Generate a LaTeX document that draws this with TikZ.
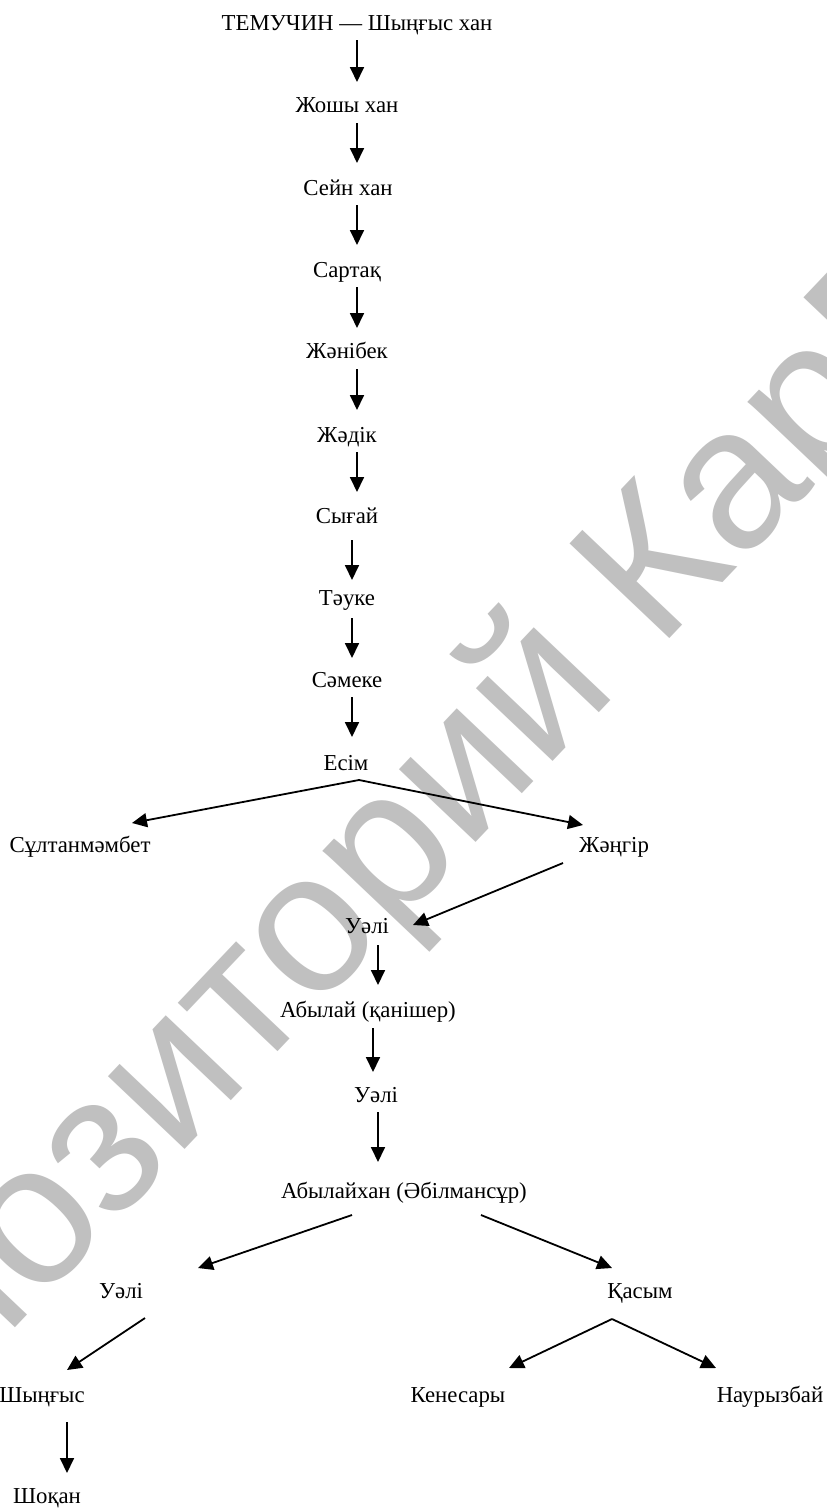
\documentclass[tikz,border=0pt]{standalone}
\usepackage{fontspec}
\setmainfont{Liberation Serif}
\newfontfamily\wmfont{Liberation Sans}
\usetikzlibrary{arrows.meta}
\definecolor{wmgray}{RGB}{192,192,192}
\begin{document}
\begin{tikzpicture}[x=1pt,y=-1pt,
  lbl/.style={anchor=base,inner sep=0pt,font=\fontsize{22.8}{26}\selectfont},
  arr/.style={-{Triangle[length=15pt,width=14pt]},line width=1.8pt},
  wm/.style={anchor=base west,inner sep=0pt,rotate=46.5,text=wmgray,font=\wmfont\fontsize{200}{200}\selectfont}]
\useasboundingbox (0,0) rectangle (827,1508);
\fill[white] (0,0) rectangle (827,1508);
\begin{scope}
\clip (0,0) rectangle (827,1508);
\node[wm] (wmark) at (-200,1555) {Репозиторий КарГУ};
\end{scope}
% nodes
\node[lbl] (t0) at (357,30) {ТЕМУЧИН — Шыңғыс хан};
\node[lbl] (t1) at (347,112) {Жошы хан};
\node[lbl] (t2) at (348,195) {Сейн хан};
\node[lbl] (t3) at (347,277) {Сартақ};
\node[lbl] (t4) at (347,358) {Жәнібек};
\node[lbl] (t5) at (347,442) {Жәдік};
\node[lbl] (t6) at (347,523) {Сығай};
\node[lbl] (t7) at (347,605) {Тәуке};
\node[lbl] (t8) at (347,687) {Сәмеке};
\node[lbl] (t9) at (346,770) {Есім};
\node[lbl] (t10) at (80,852) {Сұлтанмәмбет};
\node[lbl] (t11) at (614,852) {Жәңгір};
\node[lbl] (t12) at (367,933) {Уәлі};
\node[lbl] (t13) at (368,1017) {Абылай (қанішер)};
\node[lbl] (t14) at (376,1102) {Уәлі};
\node[lbl] (t15) at (404,1198) {Абылайхан (Әбілмансұр)};
\node[lbl] (t16) at (121,1298) {Уәлі};
\node[lbl] (t17) at (640,1298) {Қасым};
\node[lbl] (t18) at (42,1402) {Шыңғыс};
\node[lbl] (t19) at (458,1402) {Кенесары};
\node[lbl] (t20) at (770,1402) {Наурызбай};
\node[lbl] (t21) at (47,1503) {Шоқан};
% connectors
\draw[arr] ([shift={(0,10)}]t0.base) -- ([shift={(10,-30)}]t1.base);
\draw[arr] ([shift={(10,11)}]t1.base) -- ([shift={(9,-32)}]t2.base);
\draw[arr] ([shift={(9,10)}]t2.base) -- ([shift={(10,-32)}]t3.base);
\draw[arr] ([shift={(10,10)}]t3.base) -- ([shift={(10,-30)}]t4.base);
\draw[arr] ([shift={(10,11)}]t4.base) -- ([shift={(10,-32)}]t5.base);
\draw[arr] ([shift={(10,10)}]t5.base) -- ([shift={(10,-31)}]t6.base);
\draw[arr] ([shift={(5,17)}]t6.base) -- ([shift={(5,-25)}]t7.base);
\draw[arr] ([shift={(5,13)}]t7.base) -- ([shift={(5,-29)}]t8.base);
\draw[arr] ([shift={(5,10)}]t8.base) -- ([shift={(6,-33)}]t9.base);
\draw[arr] ([shift={(13,10)}]t9.base) -- ([shift={(52,-29)}]t10.base);
\draw[arr] ([shift={(13,10)}]t9.base) -- ([shift={(-31,-27)}]t11.base);
\draw[arr] ([shift={(-51,11)}]t11.base) -- ([shift={(46,-8)}]t12.base);
\draw[arr] ([shift={(11,12)}]t12.base) -- ([shift={(10,-32)}]t13.base);
\draw[arr] ([shift={(5,11)}]t13.base) -- ([shift={(-3,-30)}]t14.base);
\draw[arr] ([shift={(2,10)}]t14.base) -- ([shift={(-26,-36)}]t15.base);
\draw[arr] ([shift={(-52,17)}]t15.base) -- ([shift={(77,-30)}]t16.base);
\draw[arr] ([shift={(77,17)}]t15.base) -- ([shift={(-28,-30)}]t17.base);
\draw[arr] ([shift={(24,20)}]t16.base) -- ([shift={(25,-32)}]t18.base);
\draw[arr] ([shift={(-28,21)}]t17.base) -- ([shift={(51,-34)}]t19.base);
\draw[arr] ([shift={(-28,21)}]t17.base) -- ([shift={(-54,-34)}]t20.base);
\draw[arr] ([shift={(25,20)}]t18.base) -- ([shift={(20,-30)}]t21.base);
\end{tikzpicture}
\end{document}
